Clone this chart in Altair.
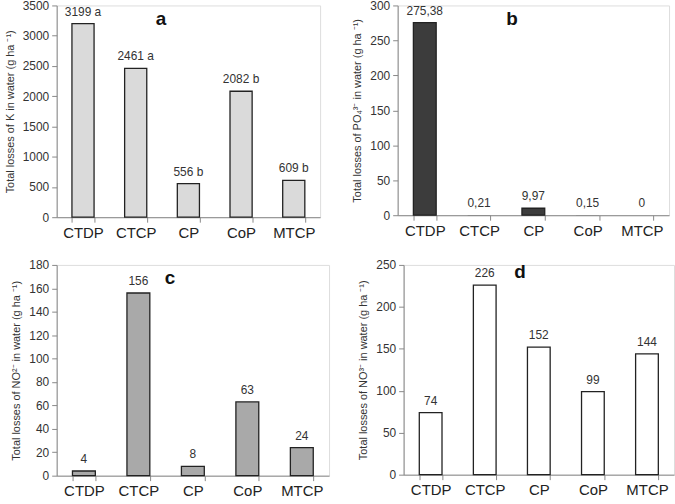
import altair as alt
import pandas as pd

# Treatments shared by all four panels
treatments = ["CTDP", "CTCP", "CP", "CoP", "MTCP"]

# a: potassium losses, with significance letters
k_loss = [3199, 2461, 556, 2082, 609]
k_groups = ["a", "a", "b", "b", "b"]

# b: phosphate losses
po4_loss = [275.38, 0.21, 9.97, 0.15, 0]

# c: nitrite losses
no2_loss = [4, 156, 8, 63, 24]

# d: nitrate losses
no3_loss = [74, 226, 152, 99, 144]

FONT = "Liberation Sans"


def panel(values, labels, ytitle, ymax, ystep, fill, letter, letter_x, letter_y, w, h):
    df = pd.DataFrame({"trt": treatments, "v": values, "lab": labels})
    x = alt.X(
        "trt:N",
        sort=treatments,
        title=None,
        scale=alt.Scale(paddingInner=0.58, paddingOuter=0.29),
        axis=alt.Axis(
            labelAngle=0,
            labelFontSize=15,
            labelColor="#222",
            labelPadding=3,
            tickBand="extent",
            tickSize=5,
            tickColor="#888",
            domainColor="#888",
            grid=False,
        ),
    )
    y = alt.Y(
        "v:Q",
        title=ytitle,
        scale=alt.Scale(domain=[0, ymax], nice=False),
        axis=alt.Axis(
            values=list(range(0, ymax + 1, ystep)),
            format="d",
            labelOverlap=False,
            labelFontSize=12,
            labelColor="#333",
            labelPadding=3,
            tickSize=5,
            tickColor="#888",
            domainColor="#888",
            titleFontSize=11,
            titleFontWeight="normal",
            titleColor="#333",
            titlePadding=7,
            grid=False,
        ),
    )
    # bars too thin to see (below one unit) carry no outline
    bars = alt.Chart(df).mark_bar(fill=fill, stroke="#222", strokeWidth=1.3).encode(
        x=x,
        y=y,
        strokeOpacity=alt.condition("datum.v < 1", alt.value(0), alt.value(1)),
    )
    text = alt.Chart(df).mark_text(
        baseline="middle", dy=-12, fontSize=12, color="#333", font=FONT
    ).encode(x=x, y=y, text="lab:N")
    tag = alt.Chart(pd.DataFrame({"t": [letter]})).mark_text(
        fontSize=19, fontWeight="bold", color="#111", font=FONT
    ).encode(x=alt.value(letter_x), y=alt.value(letter_y), text="t:N")
    return alt.layer(bars, text, tag).properties(width=w, height=h)


def comma(v):
    return "0" if v == 0 else f"{v:.2f}".replace(".", ",")


a = panel(k_loss, [f"{v} {g}" for v, g in zip(k_loss, k_groups)],
          "Total losses of K in water (g ha \u207b\u00b9)", 3500, 500,
          "#dadada", "a", 105, 14, 265, 213)
b = panel(po4_loss, [comma(v) for v in po4_loss],
          "Total losses of PO\u2084\u00b3\u207b in water (g ha \u207b\u00b9)", 300, 50,
          "#3c3c3c", "b", 115, 14, 273, 211)
c = panel(no2_loss, [str(v) for v in no2_loss],
          "Total losses of NO\u00b2\u207b in water (g ha \u207b\u00b9)", 180, 20,
          "#a9a9a9", "c", 114, 13, 274, 212)
d = panel(no3_loss, [str(v) for v in no3_loss],
          "Total losses of NO\u00b3\u207b in water (g ha \u207b\u00b9)", 250, 50,
          "#ffffff", "d", 117, 7, 272, 211)

top = alt.hconcat(a, b, spacing=30)
bottom = alt.hconcat(c, d, spacing=27)

chart = (
    alt.vconcat(top, bottom, spacing=17)
    .properties(padding={"left": 3, "top": -3, "right": 0, "bottom": 0}, background="white")
    .configure_view(stroke=None)
    .configure(font=FONT)
)

chart.save("out.html", embed_options={"renderer": "svg", "actions": False})
